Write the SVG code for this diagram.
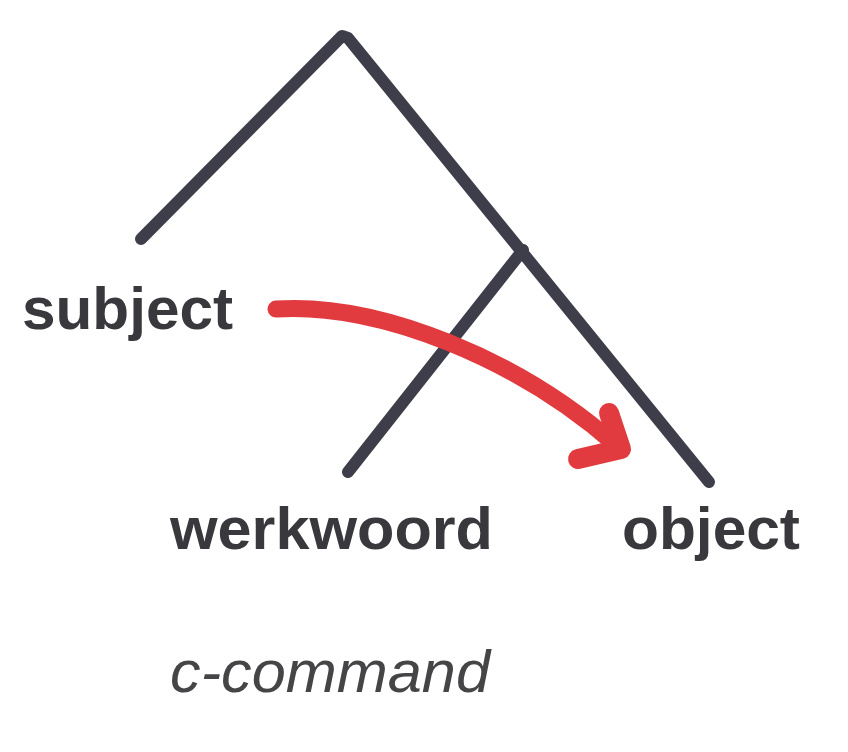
<svg xmlns="http://www.w3.org/2000/svg" width="848" height="752" viewBox="0 0 848 752">
<style>
.br{fill:none;stroke:#3e3e4b;stroke-width:12;stroke-linecap:round;stroke-linejoin:round}
.lbl{font-family:"Liberation Sans",Arial,sans-serif;font-weight:bold;font-size:60px;fill:#38383d}
.cap{font-family:"Liberation Sans",Arial,sans-serif;font-style:italic;font-size:60px;fill:#454548}
.arr{fill:none;stroke:#e23b3f;stroke-width:17;stroke-linecap:round;stroke-linejoin:round}
</style>
<rect width="848" height="752" fill="#ffffff"/>
<g id="connectors">
<path class="br" d="M141,239 L342,36 L348,38 L709,482"/>
<path class="br" d="M523,250 L348,472"/>
<path class="arr" d="M276,309 C380,302 520,360 617,446"/>
<path class="arr" style="stroke-width:20" d="M609,413 L621,449 L578,459"/>
</g>
<g id="subject"><text class="lbl" x="22" y="329" textLength="211" lengthAdjust="spacingAndGlyphs">subject</text></g>
<g id="werkwoord"><text class="lbl" x="170" y="549" textLength="323" lengthAdjust="spacingAndGlyphs">werkwoord</text></g>
<g id="object"><text class="lbl" x="622" y="549" textLength="178" lengthAdjust="spacingAndGlyphs">object</text></g>
<g id="c-command"><text class="cap" x="170" y="692" textLength="320" lengthAdjust="spacingAndGlyphs">c-command</text></g>
</svg>
